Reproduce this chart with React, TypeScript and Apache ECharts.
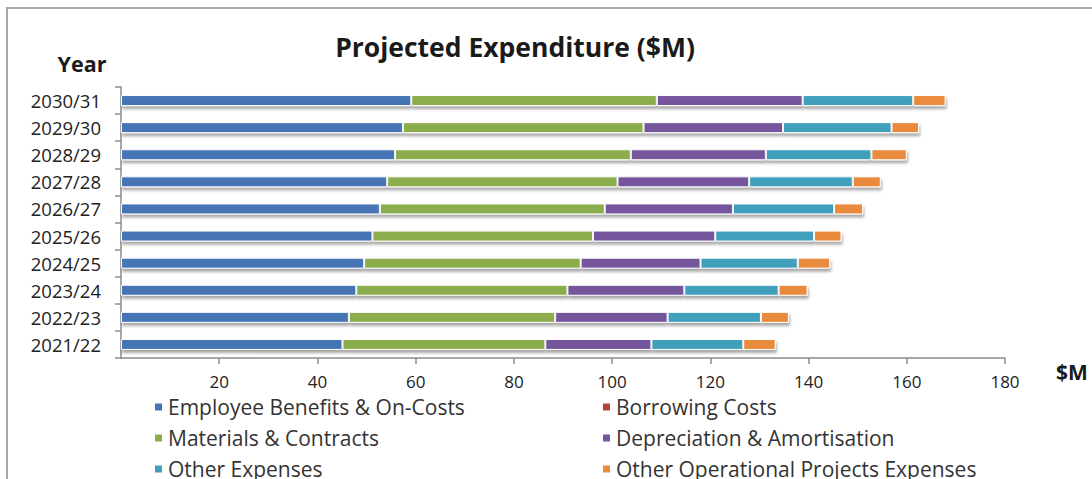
import React, { useEffect, useRef } from "react";
import * as echarts from "echarts";

const years = ["2021/22", "2022/23", "2023/24", "2024/25", "2025/26", "2026/27", "2027/28", "2028/29", "2029/30", "2030/31"];
const employeeBenefits = [45.1, 46.4, 47.9, 49.5, 51.2, 52.7, 54.2, 55.8, 57.4, 59.1];
const borrowingCosts = [0, 0, 0, 0, 0, 0, 0, 0, 0, 0];
const materialsContracts = [41.3, 42.0, 43.0, 44.1, 44.9, 45.8, 46.9, 48.0, 49.0, 50.0];
const depreciation = [21.6, 22.9, 23.8, 24.4, 24.9, 26.1, 26.8, 27.5, 28.4, 29.7];
const otherExpenses = [18.7, 19.0, 19.2, 19.8, 20.1, 20.6, 21.1, 21.5, 22.1, 22.5];
const otherOperational = [6.6, 5.7, 5.9, 6.6, 5.6, 5.9, 5.7, 7.2, 5.6, 6.6];
const xTicks = [0, 20, 40, 60, 80, 100, 120, 140, 160, 180];

const seriesDefs = [
  { name: "Employee Benefits & On-Costs", data: employeeBenefits, color: "#4474b4" },
  { name: "Borrowing Costs", data: borrowingCosts, color: "#b8403c" },
  { name: "Materials & Contracts", data: materialsContracts, color: "#8cad4c" },
  { name: "Depreciation & Amortisation", data: depreciation, color: "#74569c" },
  { name: "Other Expenses", data: otherExpenses, color: "#40a0bc" },
  { name: "Other Operational Projects Expenses", data: otherOperational, color: "#ea8a3c" },
];

const FONT = "Open Sans";

export default function App() {
  const ref = useRef<HTMLDivElement>(null);
  useEffect(() => {
    if (!ref.current) return;
    const chart = echarts.init(ref.current, null, { renderer: "svg" });
    const legendText = { fontFamily: FONT, fontSize: 21, color: "#333", lineHeight: 22 };
    const legendBase = {
      orient: "vertical",
      top: 396,
      height: 200,
      padding: 0,
      itemWidth: 9,
      itemHeight: 9,
      itemGap: 9,
      icon: "rect",
      textStyle: legendText,
    };
    chart.setOption({
      animation: false,
      backgroundColor: "#fff",
      grid: { left: 121, right: 87, top: 87, bottom: 121, containLabel: false },
      graphic: [
        {
          type: "polyline",
          shape: { points: [[7, 700], [7, 8], [1300, 8]] },
          style: { fill: "none", stroke: "#a8a8a8", lineWidth: 2 },
          silent: true,
        },
        {
          type: "text",
          x: 515,
          y: 47,
          style: {
            text: "Projected Expenditure ($M)",
            fontFamily: FONT,
            fontSize: 26.5,
            fontWeight: "bold",
            fill: "#1a1a1a",
            textAlign: "center",
            textVerticalAlign: "middle",
          },
        },
        {
          type: "text",
          x: 82,
          y: 63,
          style: {
            text: "Year",
            fontFamily: FONT,
            fontSize: 21.5,
            fontWeight: "bold",
            fill: "#1a1a1a",
            textAlign: "center",
            textVerticalAlign: "middle",
          },
        },
        {
          type: "text",
          x: 1056,
          y: 372,
          style: {
            text: "$M",
            fontFamily: FONT,
            fontSize: 21,
            fontWeight: "bold",
            fill: "#1a1a1a",
            textAlign: "left",
            textVerticalAlign: "middle",
          },
        },
      ],
      legend: [
        {
          ...legendBase,
          left: 153,
          data: [seriesDefs[0].name, seriesDefs[2].name, seriesDefs[4].name],
        },
        {
          ...legendBase,
          left: 601,
          data: [seriesDefs[1].name, seriesDefs[3].name, seriesDefs[5].name],
        },
      ],
      xAxis: {
        type: "value",
        min: xTicks[0],
        max: xTicks[xTicks.length - 1],
        interval: 20,
        axisLine: { show: true, lineStyle: { color: "#8c8c8c", width: 1.5 } },
        axisTick: { show: true, inside: false, length: 6, lineStyle: { color: "#8c8c8c", width: 1.5 } },
        splitLine: { show: false },
        axisLabel: {
          fontFamily: FONT,
          fontSize: 17,
          color: "#222",
          margin: 15,
          showMinLabel: false,
        },
      },
      yAxis: {
        type: "category",
        data: years,
        axisLine: { show: true, lineStyle: { color: "#8c8c8c", width: 1.5 } },
        axisTick: { show: true, inside: false, length: 6, lineStyle: { color: "#8c8c8c", width: 1.5 } },
        axisLabel: { fontFamily: FONT, fontSize: 18.5, color: "#222", margin: 20 },
      },
      series: seriesDefs.map((s) => ({
        name: s.name,
        type: "bar",
        stack: "total",
        data: s.data,
        barWidth: 11,
        itemStyle: {
          color: s.color,
          borderColor: "#fff",
          borderWidth: 1,
          shadowColor: "rgba(0,0,0,0.35)",
          shadowBlur: 3,
          shadowOffsetX: 1,
          shadowOffsetY: 3,
        },
      })),
    });
    return () => chart.dispose();
  }, []);
  return (
    <div
      ref={ref}
      style={{ position: "fixed", left: 0, top: 0, width: 1092, height: 479 }}
    />
  );
}
